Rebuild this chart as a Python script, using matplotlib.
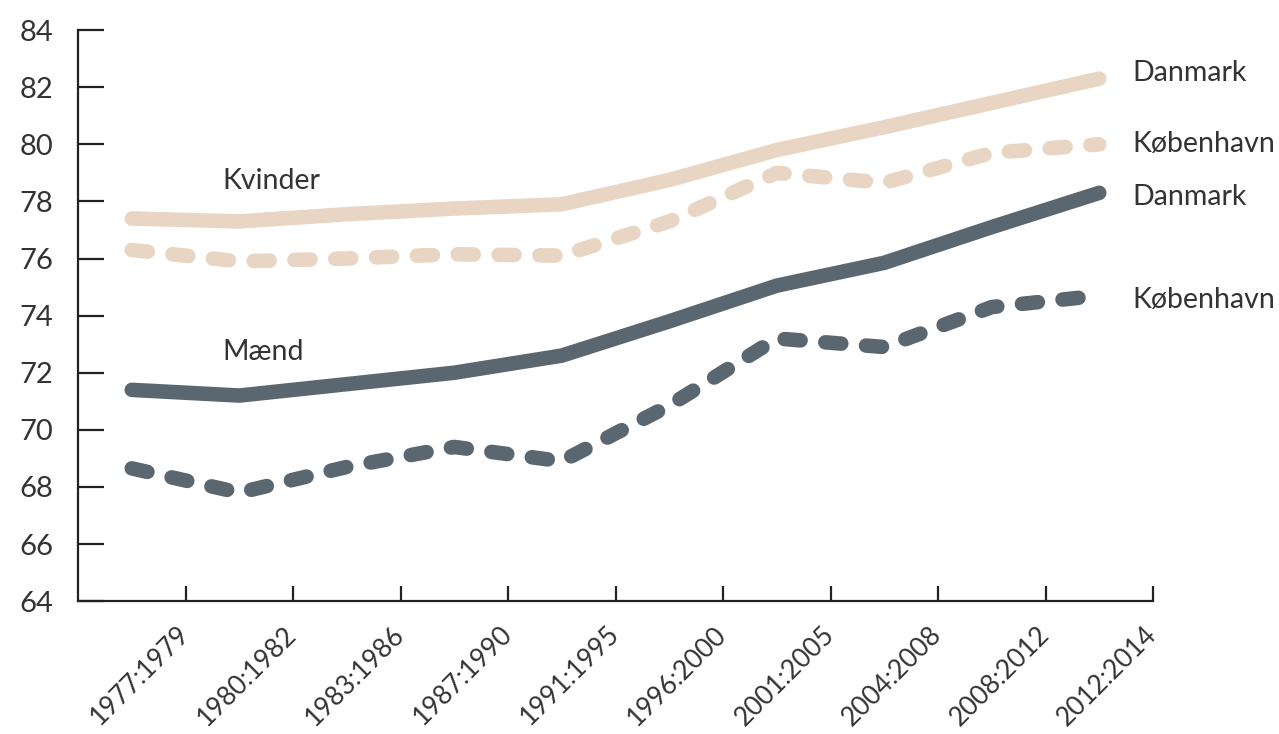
import numpy as np
import matplotlib.pyplot as plt
import matplotlib.transforms as mtransforms

# --- data ---
perioder = ['1977:1979', '1980:1982', '1983:1986', '1987:1990', '1991:1995',
            '1996:2000', '2001:2005', '2004:2008', '2008:2012', '2012:2014']
kvinder_dk = [77.4, 77.3, 77.55, 77.75, 77.9, 78.75, 79.8, 80.6, 81.45, 82.3]
kvinder_kbh = [76.3, 75.9, 76.0, 76.15, 76.1, 77.3, 79.0, 78.65, 79.7, 80.0]
maend_dk = [71.4, 71.2, 71.6, 72.0, 72.6, 73.8, 75.05, 75.85, 77.1, 78.3]
maend_kbh = [68.65, 67.8, 68.7, 69.4, 68.9, 70.85, 73.2, 72.9, 74.3, 74.7]

beige = '#E9D5C3'
slate = '#5B6770'
txt = '#333333'

plt.rcParams['font.family'] = ['Lato', 'DejaVu Sans']

fig = plt.figure(figsize=(12.79, 7.34), dpi=100)
ax = fig.add_axes([0.061, 0.181, 0.8405, 0.778])

x = np.arange(len(perioder)) + 0.5
lw = 10.5
dash = (1.1, 1.7)

ax.plot(x, kvinder_dk, color=beige, lw=lw, solid_capstyle='round', solid_joinstyle='round')
l = ax.plot(x, kvinder_kbh, color=beige, lw=lw, dash_capstyle='round', dash_joinstyle='round')[0]
l.set_dashes(dash)
ax.plot(x, maend_dk, color=slate, lw=lw, solid_capstyle='round', solid_joinstyle='round')
l = ax.plot(x, maend_kbh, color=slate, lw=lw, dash_capstyle='round', dash_joinstyle='round')[0]
l.set_dashes(dash)

ax.set_xlim(0, 10)
ax.set_ylim(64, 84)
ax.set_yticks(np.arange(64, 85, 2))
ax.set_xticks(np.arange(1, 11))
ax.set_xticklabels(perioder, rotation=45, ha='right', va='center', rotation_mode='anchor')

# nudge rotated labels a little to the right
shift = mtransforms.ScaledTranslation(9 / 100, 0, fig.dpi_scale_trans)
for lab in ax.get_xticklabels():
    lab.set_transform(lab.get_transform() + shift)

for s in ['top', 'right']:
    ax.spines[s].set_visible(False)
for s in ['left', 'bottom']:
    ax.spines[s].set_linewidth(1.6)
    ax.spines[s].set_color('#222222')

ax.tick_params(axis='y', direction='in', length=19, width=1.6, color='#222222',
               labelsize=21, labelcolor=txt, pad=18)
ax.tick_params(axis='x', direction='in', length=11, width=1.6, color='#222222',
               labelsize=19, labelcolor=txt, pad=21)

# series labels
ax.text(1.34, 78.7, 'Kvinder', fontsize=20.5, color=txt, va='center', ha='left')
ax.text(1.34, 72.72, 'Mænd', fontsize=20.5, color=txt, va='center', ha='left')
ax.text(9.81, 82.5, 'Danmark', fontsize=20.5, color=txt, va='center', ha='left')
ax.text(9.81, 80.0, 'København', fontsize=20.5, color=txt, va='center', ha='left')
ax.text(9.81, 78.15, 'Danmark', fontsize=20.5, color=txt, va='center', ha='left')
ax.text(9.81, 74.55, 'København', fontsize=20.5, color=txt, va='center', ha='left')

fig.savefig('out.png', dpi=100)
